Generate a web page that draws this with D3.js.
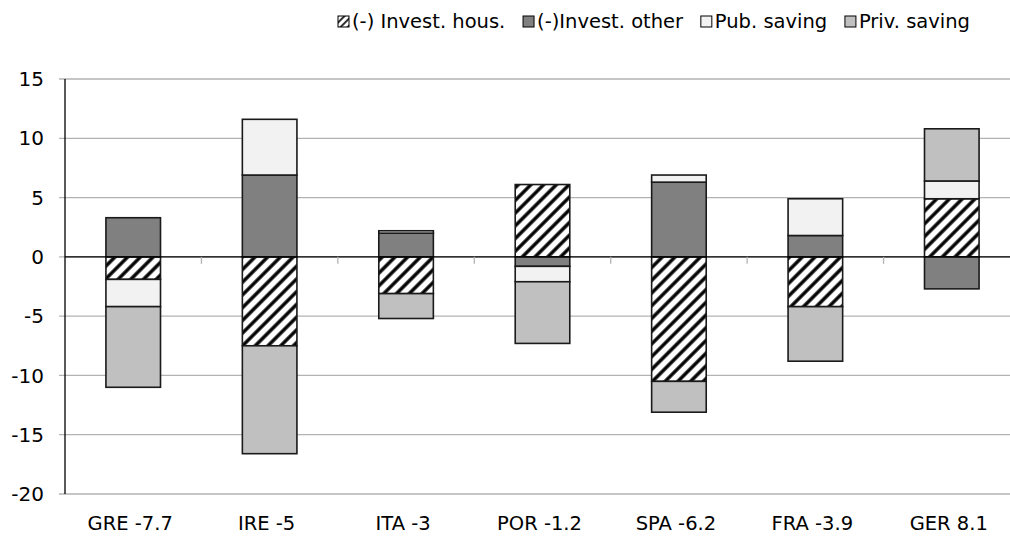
<!DOCTYPE html>
<html><head><meta charset="utf-8">
<script src="https://cdn.jsdelivr.net/npm/d3@7"></script>
<style>body{margin:0;background:#fff}svg{display:block}text{font-family:Verdana,"DejaVu Sans",sans-serif;fill:#000}</style>
</head><body><svg id="c" width="1010" height="540"></svg>
<script>
const categories = ["GRE -7.7","IRE -5","ITA -3","POR -1.2","SPA -6.2","FRA -3.9","GER 8.1"];
const seriesNames = ["(-) Invest. hous.","(-)Invest. other","Pub. saving","Priv. saving"];
const investHous  = [-1.9, -7.5, -3.1,  6.1, -10.5, -4.2,  4.9];
const investOther = [ 3.3,  6.9,  2.0, -0.8,   6.3,  1.8, -2.7];
const pubSaving   = [-2.3,  4.7,  0.2, -1.3,   0.6,  3.1,  1.5];
const privSaving  = [-6.8, -9.1, -2.1, -5.2,  -2.6, -4.6,  4.4];
const yTicks = [-20,-15,-10,-5,0,5,10,15];

(function(){
const svg = d3.select("#c");
const mLeft = 65, mRight = 1020, mTop = 79, mBottom = 494;
const keys = ["h","o","p","s"];
const rows = categories.map((c,i)=>({cat:c,h:investHous[i],o:investOther[i],p:pubSaving[i],s:privSaving[i]}));
const x = d3.scaleBand().domain(categories).range([mLeft,mRight]).paddingInner(0.6).paddingOuter(0.3);
const y = d3.scaleLinear().domain([-20,15]).range([mBottom,mTop]);

const defs = svg.append("defs");
const pat = defs.append("pattern").attr("id","hatch").attr("patternUnits","userSpaceOnUse")
  .attr("width",9).attr("height",9).attr("patternTransform","rotate(45)");
pat.append("rect").attr("width",9).attr("height",9).attr("fill","#fff");
pat.append("line").attr("x1",2).attr("x2",2).attr("y1",0).attr("y2",9).attr("stroke","#000").attr("stroke-width",3.4);
const pat2 = defs.append("pattern").attr("id","hatchS").attr("patternUnits","userSpaceOnUse")
  .attr("width",5).attr("height",5).attr("patternTransform","rotate(45)");
pat2.append("rect").attr("width",5).attr("height",5).attr("fill","#fff");
pat2.append("line").attr("x1",1).attr("x2",1).attr("y1",0).attr("y2",5).attr("stroke","#000").attr("stroke-width",1.6);

const fills = {h:"url(#hatch)",o:"#808080",p:"#f2f2f2",s:"#c0c0c0"};

svg.append("g").selectAll("line").data(yTicks).join("line")
  .attr("x1",mLeft-6).attr("x2",1010).attr("y1",d=>y(d)).attr("y2",d=>y(d))
  .attr("stroke","#b3b3b3").attr("stroke-width",1.3);
svg.append("g").selectAll("text").data(yTicks).join("text")
  .attr("x",44).attr("y",d=>y(d)).attr("dy","0.36em").attr("text-anchor","end")
  .style("font-size","20px").text(d=>d);

const stack = d3.stack().keys(keys).offset(d3.stackOffsetDiverging);
const layers = stack(rows);
svg.append("g").selectAll("g").data(layers).join("g")
  .attr("fill",d=>fills[d.key])
  .selectAll("rect").data(d=>d).join("rect")
  .attr("x",d=>x(d.data.cat)).attr("width",x.bandwidth())
  .attr("y",d=>y(Math.max(d[0],d[1]))).attr("height",d=>Math.abs(y(d[0])-y(d[1])))
  .attr("stroke","#1a1a1a").attr("stroke-width",1.6);

svg.append("line").attr("x1",mLeft).attr("x2",1010).attr("y1",y(0)).attr("y2",y(0)).attr("stroke","#000").attr("stroke-width",1.3);
svg.append("g").selectAll("line").data(categories.slice(1)).join("line")
  .attr("x1",d=>x(d)-x.step()*x.paddingInner()/2).attr("x2",d=>x(d)-x.step()*x.paddingInner()/2)
  .attr("y1",y(0)).attr("y2",y(0)+7).attr("stroke","#b3b3b3").attr("stroke-width",1.3);
svg.append("line").attr("x1",mLeft).attr("x2",mLeft).attr("y1",mTop).attr("y2",mBottom).attr("stroke","#000").attr("stroke-width",1.3);

svg.append("g").selectAll("text").data(categories).join("text")
  .attr("x",d=>x(d)+x.bandwidth()/2-3).attr("y",530).attr("text-anchor","middle")
  .style("font-size","19.5px").text(d=>d);

const leg = svg.append("g").selectAll("g").data(keys).join("g");
leg.append("rect").attr("x",0).attr("y",16).attr("width",11).attr("height",11)
  .attr("fill",d=>d==="h"?"url(#hatchS)":fills[d]).attr("stroke","#000").attr("stroke-width",1);
const lt = leg.append("text").attr("x",14).attr("y",28).style("font-size","19.5px").text((d,i)=>seriesNames[i]);
const widths = lt.nodes().map(n=>14+n.getComputedTextLength());
const start = 338, end = 970;
const gap = (end-start-d3.sum(widths))/(keys.length-1);
let cx = start;
const offs = widths.map(w=>{const o=cx; cx+=w+gap; return o;});
leg.attr("transform",(d,i)=>`translate(${offs[i]},0)`);
})();
</script></body></html>
